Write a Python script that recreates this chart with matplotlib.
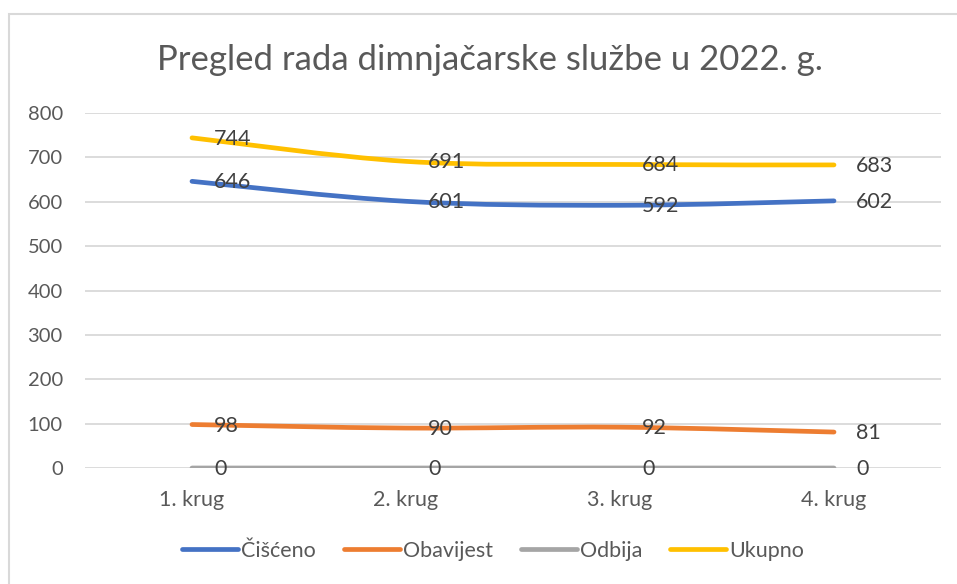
import matplotlib
matplotlib.use("Agg")
import matplotlib.pyplot as plt
from matplotlib.path import Path
from matplotlib.patches import PathPatch, Rectangle
from matplotlib.lines import Line2D
import numpy as np

plt.rcParams['font.family'] = ['Lato', 'DejaVu Sans']

categories = ["1. krug", "2. krug", "3. krug", "4. krug"]
series_names = ["Čišćeno", "Obavijest", "Odbija", "Ukupno"]
cisceno = [646, 601, 592, 602]
obavijest = [98, 90, 92, 81]
odbija = [0, 0, 0, 0]
ukupno = [744, 691, 684, 683]
yticks = [0, 100, 200, 300, 400, 500, 600, 700, 800]
title = "Pregled rada dimnjačarske službe u 2022. g."

colors = ["#4472C4", "#ED7D31", "#A5A5A5", "#FFC000"]
all_series = [cisceno, obavijest, odbija, ukupno]

W, H = 957, 584
fig = plt.figure(figsize=(W / 100, H / 100), dpi=100)
fig.patch.set_facecolor("white")

# chart border
fig.patches.append(Rectangle((9 / W, -0.05), 1.1, (H - 14) / H + 0.05,
                             transform=fig.transFigure, fill=False,
                             edgecolor="#D9D9D9", linewidth=1.5))

left, right, top, bottom = 85, 941, 113, 468
ax = fig.add_axes([left / W, (H - bottom) / H, (right - left) / W, (bottom - top) / H])
ax.set_xlim(-0.5, 3.5)
ax.set_ylim(0, 800)
ax.set_yticks(yticks)
ax.set_xticks(range(len(categories)))
ax.set_xticklabels(categories)
for s in ax.spines.values():
    s.set_visible(False)
ax.grid(axis="y", color="#D9D9D9", linewidth=1.3)
ax.set_axisbelow(True)
ax.tick_params(axis="both", length=0, colors="#595959")
ax.tick_params(axis="y", pad=16, labelsize=14.5)
ax.tick_params(axis="x", pad=16, labelsize=15.5)
for lbl in ax.get_yticklabels():
    lbl.set_horizontalalignment("right")


def smooth_path(xs, ys):
    pts = np.column_stack([xs, ys]).astype(float)
    n = len(pts)
    verts = [pts[0]]
    codes = [Path.MOVETO]
    for i in range(n - 1):
        p0 = pts[i - 1] if i > 0 else pts[i]
        p1 = pts[i]
        p2 = pts[i + 1]
        p3 = pts[i + 2] if i + 2 < n else pts[i + 1]
        c1 = p1 + (p2 - p0) / 6.0
        c2 = p2 - (p3 - p1) / 6.0
        verts += [c1, c2, p2]
        codes += [Path.CURVE4] * 3
    return Path(verts, codes)


xs = np.arange(len(categories))
for vals, col in zip(all_series, colors):
    patch = PathPatch(smooth_path(xs, vals), facecolor="none", edgecolor=col,
                      linewidth=3.4, capstyle="round", joinstyle="round", zorder=3)
    ax.add_patch(patch)
    for x, v in zip(xs, vals):
        ax.annotate(str(v), (x, v), xytext=(22, -1), textcoords="offset pixels",
                    ha="left", va="center", fontsize=15.5, color="#404040", zorder=4)

fig.text(490 / W, (H - 60) / H, title, ha="center", va="center",
         fontsize=25, color="#595959")

handles = [Line2D([0], [0], color=c, linewidth=3.4, solid_capstyle="round") for c in colors]
fig.legend(handles, series_names, loc="center", bbox_to_anchor=(493 / W, (H - 551) / H),
           ncol=4, frameon=False, fontsize=15.5, labelcolor="#595959",
           handlelength=2.6, handletextpad=0.15, columnspacing=1.3)

fig.savefig("out.png", dpi=100, facecolor="white")
